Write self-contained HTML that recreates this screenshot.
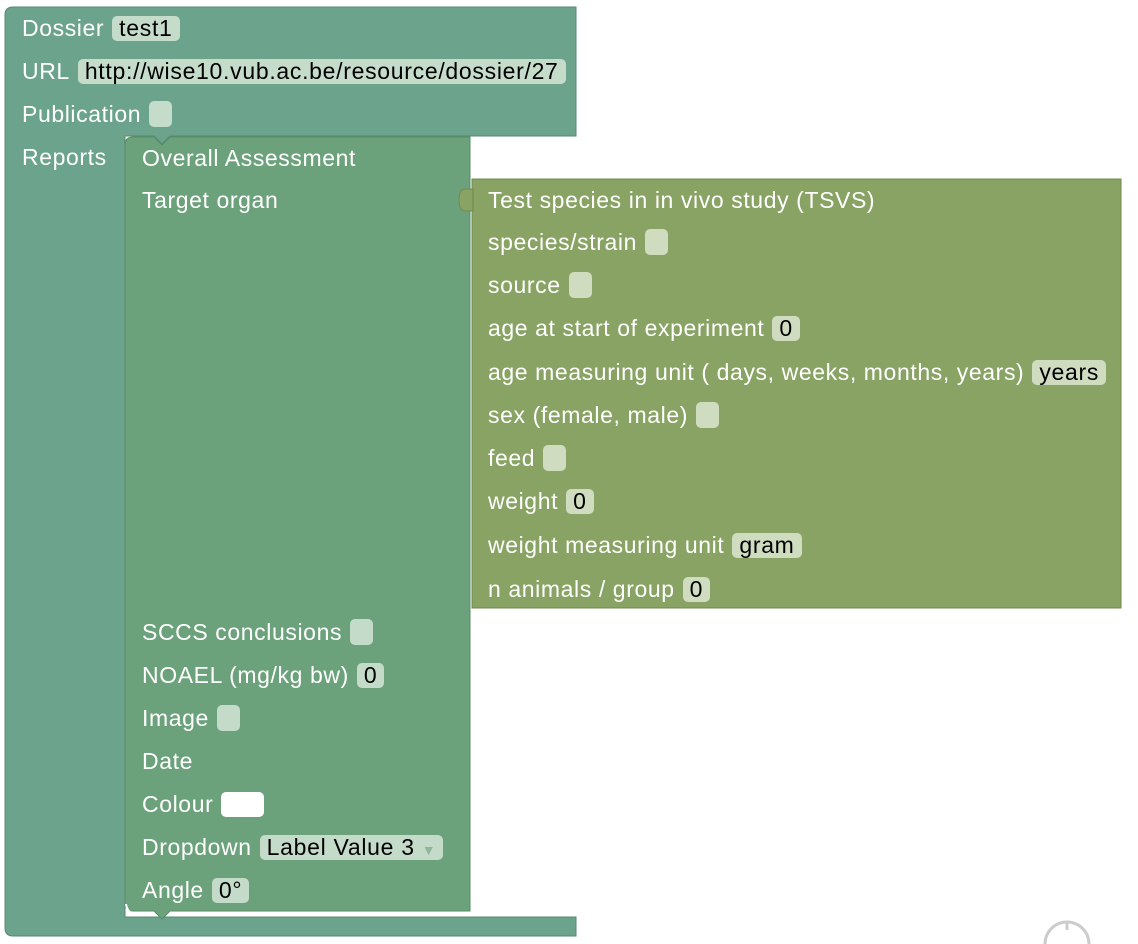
<!DOCTYPE html>
<html><head><meta charset="utf-8"><style>
body{margin:0;width:1138px;height:944px;background:#fff;position:relative;overflow:hidden;font-family:"Liberation Sans",Arial,sans-serif;}
.b{position:absolute;}
.r{position:absolute;height:26px;display:flex;align-items:center;color:#fff;font-size:23px;letter-spacing:0.6px;white-space:nowrap;}
.f{display:inline-block;background:#c5dccb;color:#000;border-radius:5px;height:25px;line-height:25px;padding:0 7px;margin-left:8px;font-size:23px;letter-spacing:0.7px;min-width:11px;}
.e{width:23px;padding:0;height:26px;}
.inner .f{background:#c5dbc9}
.right .f{background:#d0dcc0}
</style></head><body>
<svg class="b" style="left:0;top:0" width="1138" height="944">
 <path d="M5,15 Q5,7 13,7 L576,7 L576,136 L170,136 L162,144 L154,136 L125,136 L125,917 L576,917 L576,936 L13,936 Q5,936 5,928 Z" fill="#6ba38c" stroke="#578a74" stroke-width="1"/>
 <path d="M125,145 Q125,137 133,137 L154,137 L162,145 L170,137 L470,137 L470,911 L170,911 L162,919 L154,911 L133,911 Q125,911 125,903 Z" fill="#6ca27b" stroke="#5a8a67" stroke-width="1"/>
 <path d="M126,904 Q127,912 134,914 L152,914" stroke="#fff" stroke-width="2" fill="none"/>
 <path d="M472,179 L1121,179 L1121,608 L472,608 Z" fill="#88a363" stroke="#6f8a4e" stroke-width="1"/>
 <path d="M473,189 L466,189 C461,189 459,192 459,200 C459,208 461,211 466,211 L473,211 Z" fill="#88a363" stroke="#6f8a4e"/>
 <path d="M1045,944 A22,22 0 0 1 1089,944" stroke="#ccc" stroke-width="3" fill="none"/>
 <line x1="1067" y1="922" x2="1067" y2="930" stroke="#ccc" stroke-width="3"/>
</svg>

<div class="r" style="left:22px;top:15px">Dossier<span class="f">test1</span></div>
<div class="r" style="left:22px;top:58px">URL<span class="f">http://wise10.vub.ac.be/resource/dossier/27</span></div>
<div class="r" style="left:22px;top:101px">Publication<span class="f e"></span></div>
<div class="r" style="left:22px;top:144px">Reports</div>

<div class="inner">
<div class="r" style="left:142px;top:145px">Overall Assessment</div>
<div class="r" style="left:142px;top:187px">Target organ</div>
<div class="r" style="left:142px;top:619px">SCCS conclusions<span class="f e"></span></div>
<div class="r" style="left:142px;top:662px">NOAEL (mg/kg bw)<span class="f">0</span></div>
<div class="r" style="left:142px;top:705px">Image<span class="f e"></span></div>
<div class="r" style="left:142px;top:748px">Date</div>
<div class="r" style="left:142px;top:791px">Colour<span class="f" style="background:#fff;width:43px;padding:0"></span></div>
<div class="r" style="left:142px;top:834px">Dropdown<span class="f">Label Value 3 <span style="color:#8fb59a;font-size:14px">▼</span></span></div>
<div class="r" style="left:142px;top:877px">Angle<span class="f">0°</span></div>
</div>

<div class="right">
<div class="r" style="left:488px;top:187px">Test species in in vivo study (TSVS)</div>
<div class="r" style="left:488px;top:229px">species/strain<span class="f e"></span></div>
<div class="r" style="left:488px;top:272px">source<span class="f e"></span></div>
<div class="r" style="left:488px;top:315px">age at start of experiment<span class="f">0</span></div>
<div class="r" style="left:488px;top:359px">age measuring unit ( days, weeks, months, years)<span class="f">years</span></div>
<div class="r" style="left:488px;top:402px">sex (female, male)<span class="f e"></span></div>
<div class="r" style="left:488px;top:445px">feed<span class="f e"></span></div>
<div class="r" style="left:488px;top:488px">weight<span class="f">0</span></div>
<div class="r" style="left:488px;top:532px">weight measuring unit<span class="f">gram</span></div>
<div class="r" style="left:488px;top:576px">n animals / group<span class="f">0</span></div>
</div>
</body></html>
